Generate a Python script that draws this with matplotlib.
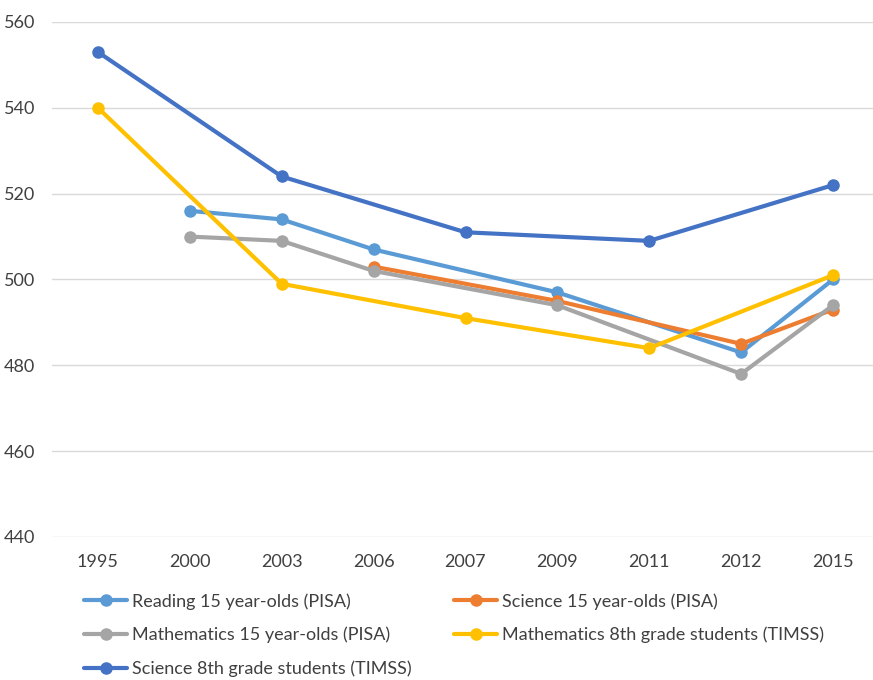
import matplotlib
matplotlib.use("Agg")
import matplotlib.pyplot as plt
import numpy as np

plt.rcParams['font.family'] = ['Lato', 'DejaVu Sans']

years = ["1995", "2000", "2003", "2006", "2007", "2009", "2011", "2012", "2015"]

reading_pisa = {"2000": 516, "2003": 514, "2006": 507, "2009": 497, "2012": 483, "2015": 500}
science_pisa = {"2006": 503, "2009": 495, "2012": 485, "2015": 493}
math_pisa = {"2000": 510, "2003": 509, "2006": 502, "2009": 494, "2012": 478, "2015": 494}
math_timss = {"1995": 540, "2003": 499, "2007": 491, "2011": 484, "2015": 501}
science_timss = {"1995": 553, "2003": 524, "2007": 511, "2011": 509, "2015": 522}

series = [
    ("Reading 15 year-olds (PISA)", reading_pisa, "#5B9BD5"),
    ("Science 15 year-olds (PISA)", science_pisa, "#ED7D31"),
    ("Mathematics 15 year-olds (PISA)", math_pisa, "#A5A5A5"),
    ("Mathematics 8th grade students (TIMSS)", math_timss, "#FFC000"),
    ("Science 8th grade students (TIMSS)", science_timss, "#4472C4"),
]

fig = plt.figure(figsize=(8.73, 6.8), dpi=100)
ax = fig.add_axes([52 / 873, 1 - 537 / 680, (879 - 52) / 873, (537 - 22) / 680])

text_color = "#404040"
handles = []
for label, data, color in series:
    xs = [years.index(y) for y in data]
    ys = list(data.values())
    h, = ax.plot(xs, ys, color=color, lw=3.0, marker="o", ms=8, label=label,
                 solid_capstyle="round", solid_joinstyle="round")
    handles.append(h)

ax.set_xlim(-0.5, len(years) - 0.5)
ax.set_ylim(440, 560)
ax.set_yticks(np.arange(440, 561, 20))
ax.set_xticks(range(len(years)))
ax.set_xticklabels(years)
ax.grid(axis="y", color="#D9D9D9", lw=1.0)
ax.set_axisbelow(True)
for s in ax.spines.values():
    s.set_visible(False)
ax.tick_params(axis="both", length=0, labelsize=13, colors=text_color, pad=12)

# legend laid out row by row across two columns
order = [0, 2, 4, 1, 3]
leg = fig.legend([handles[i] for i in order], [series[i][0] for i in order],
                 loc="upper left", bbox_to_anchor=(84 / 873, 1 - 593 / 680), ncol=2,
                 frameon=False, fontsize=13, handlelength=2.4, handletextpad=0.25,
                 columnspacing=2.35, labelspacing=0.95, labelcolor=text_color,
                 borderaxespad=0, borderpad=0)

fig.savefig("out.png", dpi=100)
